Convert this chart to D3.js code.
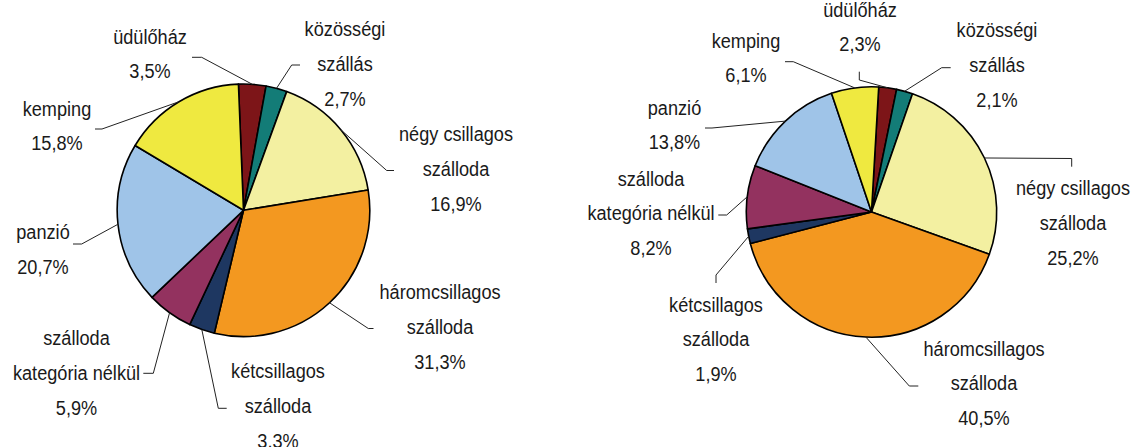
<!DOCTYPE html>
<html>
<head>
<meta charset="utf-8">
<script src="https://cdn.jsdelivr.net/npm/d3@7"></script>
<style>
  body { margin: 0; background: #fff; }
  svg { display: block; }
  text { font-family: "Liberation Sans", Arial, sans-serif; font-size: 21px; fill: #1a1a1a; }
</style>
</head>
<body>
<script>
// kategóriák (óramutató irányában, a felső szelettől)
var categories = ["üdülőház", "közösségi\nszállás", "négy csillagos\nszálloda", "háromcsillagos\nszálloda",
                  "kétcsillagos\nszálloda", "szálloda\nkategória nélkül", "panzió", "kemping"];
var colors = ["#7d1518", "#137c77", "#f3f0a1", "#f39820", "#1e3761", "#93325f", "#9fc4e8", "#efe940"];

var leftValues  = [3.5, 2.7, 16.9, 31.3, 3.3, 5.9, 20.7, 15.8];
var rightValues = [2.3, 2.1, 25.2, 40.5, 1.9, 8.2, 13.8, 6.1];

// címkék helye: [szöveg közép x, első alapvonal y, törés x, törés y, vég x, vég y]
var leftLabelPos = [
    [150, 43.5, 201.7, 57.3, 192, 57.3],
    [345, 36, 291.7, 65, 300, 65],
    [456, 141, 386.7, 170.5, 394, 170.5],
    [440, 299, 368.3, 328.5, 373.5, 328.5],
    [278, 378, 218.3, 408.3, 226.7, 408.3],
    [76.5, 345, 153.3, 373.3, 143.3, 373.3],
    [43, 239, 81.7, 244, 73, 244],
    [57, 115.5, 102, 129, 95, 129]
];
var rightLabelPos = [
    [860, 16.5, 859.3, 80, 859.3, 71.7],
    [997, 37, 941.7, 67.7, 950.7, 67.7],
    [1073, 195, 1071.7, 158.5, 1071.7, 166.7],
    [984, 355.5, 909.3, 386, 918.3, 386],
    [716, 311.5, 716, 275, 716, 283],
    [651, 185.5, 726.7, 215, 718.3, 215],
    [674.5, 114.5, 712, 128, 705, 128],
    [746, 47.5, 793.3, 61.7, 785, 61.7]
];

var width = 1131, height = 447, lineH = 34.8;

var svg = d3.select("body").append("svg")
    .attr("width", width)
    .attr("height", height);

function drawPie(values, labelPos, cx, cy, r, startDeg) {
    var start = startDeg * Math.PI / 180;
    var pie = d3.pie().sort(null).startAngle(start).endAngle(start + 2 * Math.PI);
    var arc = d3.arc().innerRadius(0).outerRadius(r);
    var arcs = pie(values);

    var g = svg.append("g").attr("transform", "translate(" + cx + "," + cy + ")");
    g.selectAll("path").data(arcs)
        .enter().append("path")
        .attr("d", arc)
        .attr("fill", function(d, i) { return colors[i]; })
        .attr("stroke", "#000")
        .attr("stroke-width", 1.6)
        .attr("stroke-linejoin", "round");

    // vezetővonalak
    arcs.forEach(function(d, i) {
        var a = (d.startAngle + d.endAngle) / 2;
        var p = labelPos[i];
        var sx = cx + r * Math.sin(a), sy = cy - r * Math.cos(a);
        svg.append("polyline")
            .attr("points", [[sx, sy], [p[2], p[3]], [p[4], p[5]]].map(function(q) { return q.join(","); }).join(" "))
            .attr("fill", "none")
            .attr("stroke", "#222")
            .attr("stroke-width", 1);

        var lines = categories[i].split("\n");
        lines.push(values[i].toFixed(1).replace(".", ",") + "%");
        lines.forEach(function(t, k) {
            svg.append("text")
                .attr("text-anchor", "middle")
                .attr("transform", "translate(" + p[0] + "," + (p[1] + k * lineH) + ") scale(0.865,1)")
                .text(t);
        });
    });
}

drawPie(leftValues, leftLabelPos, 243.5, 210.3, 126.3, -2.3);
drawPie(rightValues, rightLabelPos, 871.5, 212, 125.2, 3.3);
</script>
</body>
</html>
